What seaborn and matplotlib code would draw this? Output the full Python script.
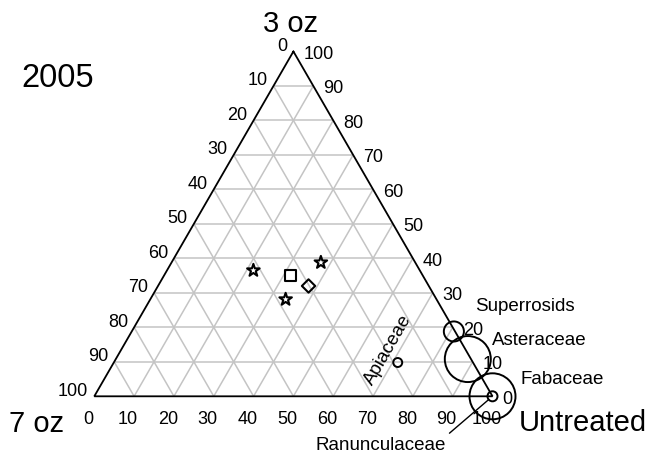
import numpy as np
import pandas as pd
import matplotlib
matplotlib.use("Agg")
import matplotlib.pyplot as plt
import seaborn as sns

# ---------------- data (percent compositions) ----------------
vertex_titles = ["3 oz", "7 oz", "Untreated"]   # top, bottom-left, bottom-right
year_label = "2005"
tick_values = [0, 10, 20, 30, 40, 50, 60, 70, 80, 90, 100]

pt_group = ["a", "b", "a", "c", "a"]
pt_3oz = [36.5, 35.1, 38.8, 32.0, 28.1]
pt_7oz = [41.8, 33.1, 23.7, 30.2, 37.9]
pt_untreated = [21.7, 31.8, 37.5, 37.8, 34.0]

family_names = ["Superrosids", "Asteraceae", "Fabaceae", "Ranunculaceae", "Apiaceae"]
family_3oz = [18.8, 10.8, 0.0, 0.0, 9.8]
family_7oz = [0.3, 0.8, 0.0, 0.0, 18.9]
family_untreated = [80.9, 88.4, 100.0, 100.0, 71.3]
family_abundance = [4.0, 21.0, 21.0, 1.0, 0.8]

# ---------------- helpers ----------------
H = np.sqrt(3) / 2


def tern(top, right):
    """top = 3 oz share, right = Untreated share -> cartesian"""
    top = np.asarray(top, dtype=float)
    right = np.asarray(right, dtype=float)
    return right + top / 2.0, top * H


PX = 1 / 3.982  # data units per pixel

sns.set_theme(style="white")
plt.rcParams["font.family"] = ["Liberation Sans", "DejaVu Sans"]
plt.rcParams["text.color"] = "black"

fig = plt.figure(figsize=(6.5, 4.56), dpi=100)
ax = fig.add_axes([0, 0, 1, 1])
ax.set_xlim(-94.3 * PX, (650 - 94.3) * PX)
ax.set_ylim((397.3 - 456) * PX, 397.3 * PX)
ax.axis("off")

# ---------------- grid ----------------
grid_kw = dict(color="#c4c4c4", lw=1.1, zorder=1, solid_capstyle="butt")
for v in tick_values[1:-1]:
    # constant 3 oz (horizontal)
    x0, y0 = tern(v, 0)
    x1, y1 = tern(v, 100 - v)
    ax.plot([x0, x1], [y0, y1], **grid_kw)
    # constant Untreated
    x0, y0 = tern(0, v)
    x1, y1 = tern(100 - v, v)
    ax.plot([x0, x1], [y0, y1], **grid_kw)
    # constant 7 oz
    x0, y0 = tern(0, 100 - v)
    x1, y1 = tern(100 - v, 0)
    ax.plot([x0, x1], [y0, y1], **grid_kw)

# triangle edges
vx, vy = tern([100, 0, 0, 100], [0, 0, 100, 0])
ax.plot(vx, vy, color="black", lw=1.3, zorder=3, solid_joinstyle="miter")

# ---------------- tick labels ----------------
tfs = 13
for v in tick_values:
    # bottom: Untreated
    x, y = tern(0, v)
    ax.text(x - 6 * PX, y - 26.5 * PX, str(v), ha="center", va="baseline", fontsize=tfs)
    # left: 7 oz, 0 at top
    x, y = tern(100 - v, 0)
    ax.text(x - 6 * PX, y + 1.5 * PX, str(v), ha="right", va="baseline", fontsize=tfs)
    # right: 3 oz, 100 at top
    x, y = tern(v, 100 - v)
    ax.text(x + 10 * PX, y - 6.5 * PX, str(v), ha="left", va="baseline", fontsize=tfs)

# vertex titles
x, y = tern(100, 0)
ax.text(x - 3.3 * PX, y + 20.3 * PX, vertex_titles[0], ha="center", va="baseline", fontsize=21)
x, y = tern(0, 0)
ax.text(x - 57.3 * PX, y - 34.7 * PX, vertex_titles[1], ha="center", va="baseline", fontsize=21)
x, y = tern(0, 100)
ax.text(x + 26.5 * PX, y - 34 * PX, vertex_titles[2], ha="left", va="baseline", fontsize=21)

ax.text(57.5 / 650, 1 - 87.3 / 456, year_label, transform=ax.transAxes,
        ha="center", va="baseline", fontsize=23.5)

# ---------------- treatment points ----------------
px_, py_ = tern(pt_3oz, pt_untreated)
df_pts = pd.DataFrame({"x": px_, "y": py_, "group": pt_group,
                       "s7": pt_7oz})
sns.scatterplot(data=df_pts, x="x", y="y", style="group", size="group",
                markers={"a": "*", "b": "s", "c": "D"},
                sizes={"a": 90, "b": 62, "c": 46},
                facecolor="none", edgecolor="black", linewidth=1.5,
                legend=False, ax=ax, zorder=5)

# ---------------- families (bubbles) ----------------
fx, fy = tern(family_3oz, family_untreated)
df_fam = pd.DataFrame({"x": fx, "y": fy, "name": family_names,
                       "abundance": family_abundance, "s7": family_7oz})
sns.scatterplot(data=df_fam, x="x", y="y", size="abundance",
                sizes=(0, 1097), size_norm=(0, 21), marker="o",
                facecolor="none", edgecolor="black", linewidth=1.4,
                legend=False, ax=ax, zorder=6)

lfs = 13.5
label_offsets = {"Superrosids": (21, 21), "Asteraceae": (24, 14.7), "Fabaceae": (28, 13)}
for name, x, y in zip(df_fam["name"], df_fam["x"], df_fam["y"]):
    if name in label_offsets:
        dx, dy = label_offsets[name]
        ax.text(x + dx * PX, y + dy * PX, name, ha="left", va="baseline", fontsize=lfs)
    elif name == "Apiaceae":
        ax.text(x - 9.7 * PX, y + 13.3 * PX, name, ha="center", va="center",
                rotation=60, fontsize=lfs)
    elif name == "Ranunculaceae":
        ax.annotate(name, xy=(x, y), xytext=(x - 111.5 * PX, y - 52.7 * PX),
                    ha="center", va="baseline", fontsize=lfs,
                    arrowprops=dict(arrowstyle="-", lw=1.0, color="black",
                                    shrinkA=0, shrinkB=3.5, relpos=(1, 1)))

fig.savefig("out.png", dpi=100)
